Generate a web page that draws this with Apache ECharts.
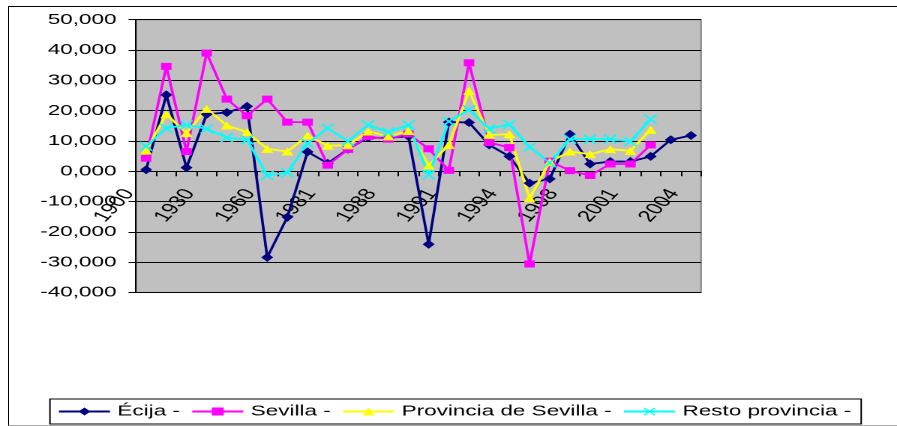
<!DOCTYPE html>
<html>
<head>
<meta charset="utf-8">
<script src="https://cdn.jsdelivr.net/npm/echarts@6/dist/echarts.min.js"></script>
<style>
  html, body { margin: 0; padding: 0; background: #fff; overflow: hidden; width: 897px; height: 426px; }
  /* chart is laid out on a narrow canvas and widened horizontally */
  #chart { position: absolute; left: 0; top: 0; width: 598px; height: 426px; transform: scaleX(1.5); transform-origin: 0 0; }
  #frame { position: absolute; left: 8px; top: 6px; width: 1000px; height: 418px;
           border-left: 1px solid #000; border-top: 1px solid #000; border-bottom: 1px solid #aaa; }
</style>
</head>
<body>
<div id="frame"></div>
<div id="chart"></div>
<script>
// Years on the category axis
const categories = ['1900','1910','1920','1930','1940','1950','1960','1970','1975','1981',
  '1986','1987','1988','1989','1990','1991','1992','1993','1994','1995','1996','1998',
  '1999','2000','2001','2002','2003','2004'];

// Population change per period
const ecija = [500, 25200, 1200, 18800, 19400, 21400, -28400, -15100, 6400, 2600,
  7300, 11100, 11000, 11500, -24100, 16200, 16100, 8700, 4900, -3900, -2500, 12200,
  2400, 3200, 3200, 4900, 10400, 11800];
const sevilla = [4300, 34600, 6500, 39000, 23800, 18300, 23800, 16200, 16200, 2000,
  7200, 11500, 10600, 12300, 7400, 300, 35800, 9500, 7800, -30600, 3300, 200,
  -1400, 2400, 2400, 8700, null, null];
const provincia = [6800, 18800, 12600, 20600, 15100, 12900, 7400, 6500, 11800, 8400,
  8600, 13100, 11500, 13300, 1900, 8700, 26500, 12000, 12200, -8900, 3100, 6500,
  5600, 7300, 6700, 13700, null, null];
const resto = [8200, 14200, 15300, 14000, 11100, 10400, -1400, -500, 9200, 14200,
  9900, 15300, 12900, 15300, -1200, 16400, 20300, 14000, 15500, 8000, 2800, 10600,
  10600, 10600, 9800, 17200, null, null];

const seriesNames = ['Écija -', 'Sevilla -', 'Provincia de Sevilla -', 'Resto provincia -'];

// Value axis range
const yMin = -40000, yMax = 50000, yStep = 10000;

const FONT = "'Liberation Sans', Arial, sans-serif";
const crossPath = 'path://M1,0 L5,4 L9,0 L10,1 L6,5 L10,9 L9,10 L5,6 L1,10 L0,9 L4,5 L0,1 Z';

const gridBox = { left: 90.7, top: 19.7, width: 376.7, height: 272.8 };
// the category axis sits on the zero line of the value axis
const zeroOffset = -gridBox.height * (0 - yMin) / (yMax - yMin);

function fmtThousands(v) {
  return (v < 0 ? '-' : '') + Math.abs(v / 1000) + ',000';
}

function lineSeries(name, data, color, symbol, size) {
  return {
    name: name,
    type: 'line',
    data: data,
    symbol: symbol,
    symbolSize: size,
    showAllSymbol: true,
    connectNulls: false,
    lineStyle: { color: color, width: 1.8 },
    itemStyle: { color: color },
    emphasis: { disabled: true },
    animation: false
  };
}

const chart = echarts.init(document.getElementById('chart'), null, { renderer: 'canvas', devicePixelRatio: 2 });
chart.setOption({
  animation: false,
  textStyle: { fontFamily: FONT },
  grid: Object.assign({
    show: true, backgroundColor: '#c0c0c0', borderColor: '#808080', borderWidth: 1
  }, gridBox),
  xAxis: {
    type: 'category',
    data: categories,
    boundaryGap: true,
    position: 'bottom',
    offset: zeroOffset,
    axisLine: { onZero: false, lineStyle: { color: '#000', width: 1 } },
    axisTick: { show: true, interval: 0, length: 5, lineStyle: { color: '#000' } },
    axisLabel: {
      interval: 2, rotate: 56, margin: 3,
      formatter: function (v) { return '{t|' + v + '}{gap|}'; },
      rich: {
        t: { fontSize: 16, color: '#000', fontFamily: FONT },
        gap: { width: 20 }
      }
    },
    splitLine: { show: false }
  },
  yAxis: {
    type: 'value',
    min: yMin, max: yMax, interval: yStep,
    axisLine: { show: true, lineStyle: { color: '#000', width: 1 } },
    axisTick: { show: true, length: 5, lineStyle: { color: '#000' } },
    axisLabel: { formatter: fmtThousands, fontSize: 15, color: '#000', margin: 13, fontFamily: FONT },
    splitLine: { show: true, lineStyle: { color: '#000', width: 1 } }
  },
  legend: {
    left: 33.3, top: 399,
    data: seriesNames,
    orient: 'horizontal',
    itemWidth: 34, itemHeight: 10, itemGap: 7.2,
    padding: [5, 6.6, 5, 5],
    borderColor: '#000', borderWidth: 1, backgroundColor: '#fff',
    textStyle: { fontSize: 15, color: '#000', fontFamily: FONT },
    selectedMode: false
  },
  series: [
    lineSeries(seriesNames[0], ecija, '#000080', 'diamond', [8, 9]),
    lineSeries(seriesNames[1], sevilla, '#ff00ff', 'rect', [7, 7]),
    lineSeries(seriesNames[2], provincia, '#ffff00', 'triangle', [8, 8]),
    lineSeries(seriesNames[3], resto, '#00ffff', crossPath, [9, 10])
  ]
});
</script>
</body>
</html>
